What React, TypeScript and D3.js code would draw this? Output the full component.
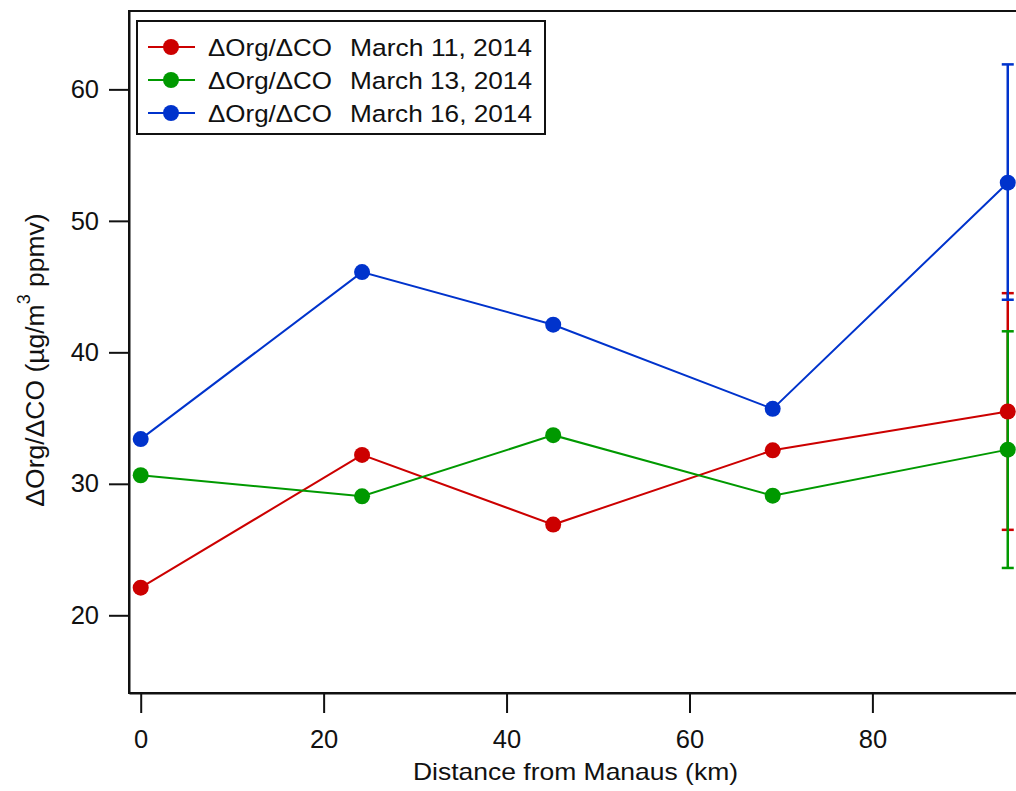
import React, { useEffect, useRef } from 'react';
import * as d3 from 'd3';

// distance from Manaus (km) for each flight leg
const distances = [0, 24.2, 45.1, 69.1, 94.8];

const seriesNames = ['March 11, 2014', 'March 13, 2014', 'March 16, 2014'];
const seriesColors = ['#cc0000', '#009900', '#0033cc'];

const march11 = [22.1, 32.2, 26.9, 32.55, 35.5];
const march13 = [30.65, 29.05, 33.7, 29.1, 32.6];
const march16 = [33.4, 46.1, 42.1, 35.7, 52.9];

// error bars only on the last point: [low, high]
const march11Err = [26.5, 44.5];
const march13Err = [23.6, 41.6];
const march16Err = [44.0, 61.9];

const xTicks = [0, 20, 40, 60, 80];
const yTicks = [20, 30, 40, 50, 60];

const App = () => {
  const svgRef = useRef<SVGSVGElement>(null);

  useEffect(() => {
    const svg = d3.select(svgRef.current);
    svg.selectAll('*').remove();

    const left = 129;
    const top = 11;
    const right = 1032;
    const bottom = 693;
    const font = 'Liberation Sans, Arial, sans-serif';

    const x = d3.scaleLinear().domain([-1.28, 97.45]).range([left, right]);
    const y = d3.scaleLinear().domain([14.09, 65.96]).range([bottom, top]);

    const series = [
      { values: march11, err: march11Err },
      { values: march13, err: march13Err },
      { values: march16, err: march16Err },
    ];

    // frame
    svg
      .append('rect')
      .attr('x', left)
      .attr('y', top)
      .attr('width', right - left)
      .attr('height', bottom - top)
      .attr('fill', 'none')
      .attr('stroke', '#111')
      .attr('stroke-width', 2);

    // axes
    const xAxis = svg
      .append('g')
      .attr('transform', `translate(0,${bottom})`)
      .call(d3.axisBottom(x).tickValues(xTicks).tickSize(20).tickSizeOuter(0).tickPadding(17));
    const yAxis = svg
      .append('g')
      .attr('transform', `translate(${left},0)`)
      .call(d3.axisLeft(y).tickValues(yTicks).tickSize(20).tickSizeOuter(0).tickPadding(10));

    [xAxis, yAxis].forEach((g) => {
      g.select('.domain').attr('stroke', '#111').attr('stroke-width', 2);
      g.selectAll('.tick line').attr('stroke', '#111').attr('stroke-width', 2);
      g.selectAll('.tick text')
        .attr('fill', '#111')
        .attr('font-family', font)
        .attr('font-size', 25.5);
    });

    // axis titles
    svg
      .append('text')
      .attr('x', 413)
      .attr('y', 780)
      .attr('font-family', font)
      .attr('font-size', 24)
      .attr('fill', '#111')
      .attr('textLength', 325)
      .attr('lengthAdjust', 'spacingAndGlyphs')
      .text('Distance from Manaus (km)');

    const yTitle = svg
      .append('text')
      .attr('transform', 'translate(44,360) rotate(-90)')
      .attr('text-anchor', 'middle')
      .attr('font-family', font)
      .attr('font-size', 26.5)
      .attr('fill', '#111');
    yTitle.append('tspan').text('ΔOrg/ΔCO (µg/m');
    yTitle.append('tspan').attr('dy', -14).attr('font-size', 18).text('3');
    yTitle.append('tspan').attr('dy', 14).text(' ppmv)');

    const line = d3
      .line<number>()
      .x((d, i) => x(distances[i]))
      .y((d) => y(d));

    const plot = svg.append('g');

    series.forEach((s, si) => {
      const color = seriesColors[si];
      const last = distances.length - 1;
      // error bar on last point
      const ex = x(distances[last]);
      plot
        .append('line')
        .attr('x1', ex)
        .attr('x2', ex)
        .attr('y1', y(s.err[0]))
        .attr('y2', y(s.err[1]))
        .attr('stroke', color)
        .attr('stroke-width', 2.5);
      s.err.forEach((e) => {
        plot
          .append('line')
          .attr('x1', ex - 6)
          .attr('x2', ex + 6)
          .attr('y1', y(e))
          .attr('y2', y(e))
          .attr('stroke', color)
          .attr('stroke-width', 2.5);
      });
    });

    series.forEach((s, si) => {
      const color = seriesColors[si];
      plot
        .append('path')
        .datum(s.values)
        .attr('fill', 'none')
        .attr('stroke', color)
        .attr('stroke-width', 2)
        .attr('d', line);
      plot
        .selectAll(null)
        .data(s.values)
        .enter()
        .append('circle')
        .attr('cx', (d, i) => x(distances[i]))
        .attr('cy', (d) => y(d))
        .attr('r', 8)
        .attr('fill', color);
    });

    // legend
    const legend = svg.append('g');
    legend
      .append('rect')
      .attr('x', 137)
      .attr('y', 21)
      .attr('width', 408)
      .attr('height', 113)
      .attr('fill', '#fff')
      .attr('stroke', '#111')
      .attr('stroke-width', 2);
    seriesNames.forEach((name, i) => {
      const ly = 47 + i * 33;
      legend
        .append('line')
        .attr('x1', 148)
        .attr('x2', 195)
        .attr('y1', ly)
        .attr('y2', ly)
        .attr('stroke', seriesColors[i])
        .attr('stroke-width', 2);
      legend.append('circle').attr('cx', 171).attr('cy', ly).attr('r', 8).attr('fill', seriesColors[i]);
      legend
        .append('text')
        .attr('x', 208)
        .attr('y', ly + 9)
        .attr('font-family', font)
        .attr('font-size', 24.5)
        .attr('fill', '#111')
        .attr('textLength', 124)
        .attr('lengthAdjust', 'spacingAndGlyphs')
        .text('ΔOrg/ΔCO');
      legend
        .append('text')
        .attr('x', 350)
        .attr('y', ly + 9)
        .attr('font-family', font)
        .attr('font-size', 24.5)
        .attr('fill', '#111')
        .attr('textLength', 182)
        .attr('lengthAdjust', 'spacingAndGlyphs')
        .text(name);
    });
  }, []);

  return (
    <svg
      ref={svgRef}
      width={1016}
      height={791}
      style={{ position: 'absolute', left: 0, top: 0, background: '#fff' }}
    ></svg>
  );
};

export default App;
